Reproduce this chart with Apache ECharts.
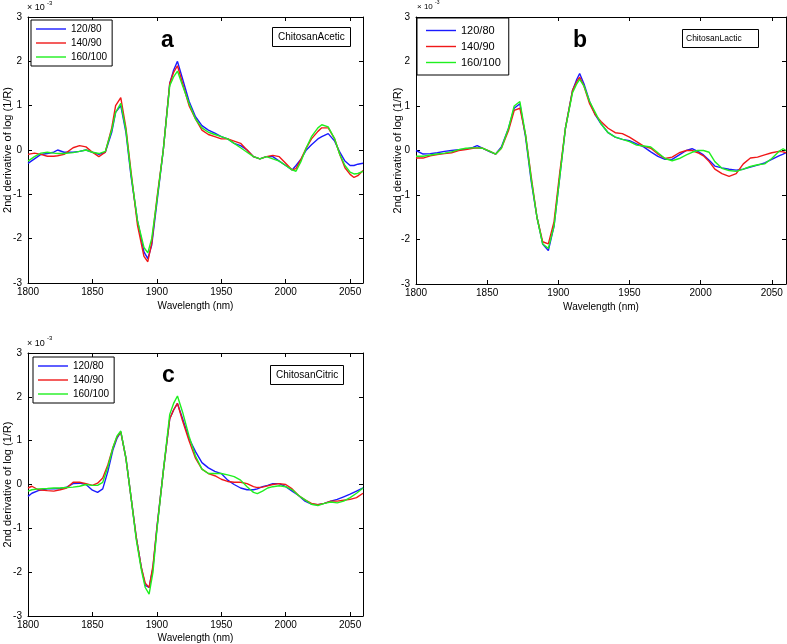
<!DOCTYPE html>
<html>
<head>
<meta charset="utf-8">
<script src="https://cdn.jsdelivr.net/npm/echarts@6/dist/echarts.min.js"></script>
<style>
html,body{margin:0;padding:0;background:#fff;}
#chart{width:787px;height:644px;}
</style>
</head>
<body>
<div id="chart"></div>
<script>
// ---------- data (values in units of 1e-3) ----------
const seriesNames = ['120/80', '140/90', '160/100'];
const panelLetters = ['a', 'b', 'c'];
const panelNotes = ['ChitosanAcetic', 'ChitosanLactic', 'ChitosanCitric'];
const yAxisTitle = '2nd derivative of log (1/R)';
const xAxisTitle = 'Wavelength (nm)';

// Panel a
const wlA = [1800,1805,1810,1815,1820,1823,1828,1835,1840,1845,
             1850,1855,1860,1865,1868,1872,1876,1880,1885,1890,
             1893,1896,1900,1905,1910,1913,1916,1920,1925,1930,
             1935,1940,1945,1950,1955,1960,1965,1970,1975,1980,
             1985,1990,1995,2000,2005,2008,2012,2016,2020,2025,
             2028,2033,2038,2042,2046,2050,2053,2056,2060];
const a120 = [-0.3,-0.2,-0.1,-0.08,-0.05,0.0,-0.05,-0.05,-0.03,0.0,
              -0.05,-0.1,-0.05,0.4,0.85,1.0,0.4,-0.6,-1.6,-2.3,
              -2.45,-2.15,-1.2,0.0,1.5,1.8,2.0,1.6,1.1,0.75,
              0.55,0.45,0.38,0.3,0.25,0.15,0.1,0.0,-0.15,-0.2,
              -0.15,-0.15,-0.25,-0.35,-0.45,-0.35,-0.2,0.0,0.12,0.25,
              0.3,0.37,0.2,-0.05,-0.25,-0.35,-0.35,-0.32,-0.3];
const a140 = [-0.1,-0.07,-0.1,-0.14,-0.14,-0.13,-0.1,0.05,0.1,0.07,
              -0.05,-0.15,-0.05,0.5,1.0,1.18,0.5,-0.5,-1.7,-2.4,
              -2.52,-2.1,-1.1,0.0,1.5,1.75,1.9,1.5,1.0,0.7,
              0.45,0.35,0.3,0.25,0.25,0.2,0.15,0.0,-0.15,-0.2,
              -0.15,-0.12,-0.15,-0.3,-0.45,-0.42,-0.2,0.05,0.25,0.42,
              0.5,0.5,0.25,-0.1,-0.4,-0.55,-0.62,-0.58,-0.46];
const a160 = [-0.25,-0.15,-0.07,-0.05,-0.07,-0.08,-0.08,-0.06,-0.03,0.0,
              -0.05,-0.08,-0.03,0.45,0.85,1.05,0.45,-0.55,-1.6,-2.2,
              -2.32,-2.0,-1.15,0.0,1.45,1.65,1.78,1.45,1.05,0.7,
              0.5,0.4,0.35,0.3,0.25,0.15,0.05,-0.05,-0.15,-0.2,
              -0.15,-0.2,-0.25,-0.35,-0.45,-0.48,-0.25,0.05,0.3,0.5,
              0.57,0.52,0.25,-0.1,-0.35,-0.5,-0.54,-0.53,-0.48];

// Panel b
const wlB = [1800,1805,1810,1815,1820,1825,1830,1835,1840,
             1843,1847,1852,1856,1860,
             1865,1869,1873,1877,1881,1885,1889,1893,1897,
             1901,1905,1910,1913,1915,1918,1922,1926,1930,
             1935,1940,1945,1950,1955,1960,1965,1970,1975,1980,
             1985,1990,1994,1998,2002,2006,2010,2015,2020,2025,
             2030,2035,2040,2045,2050,2055,2058,2060];
const b120 = [0.0,-0.08,-0.07,-0.05,-0.02,0.0,0.02,0.03,0.07,
              0.11,0.05,-0.03,-0.08,0.08,
              0.5,0.95,1.05,0.3,-0.7,-1.5,-2.1,-2.25,-1.7,
              -0.6,0.5,1.35,1.6,1.73,1.5,1.1,0.8,0.6,
              0.4,0.3,0.25,0.22,0.15,0.08,-0.03,-0.13,-0.2,-0.2,
              -0.1,0.0,0.04,-0.02,-0.1,-0.22,-0.35,-0.39,-0.42,-0.44,
              -0.42,-0.37,-0.33,-0.28,-0.2,-0.12,-0.08,-0.05];
const b140 = [-0.17,-0.17,-0.12,-0.09,-0.07,-0.05,0.0,0.02,0.05,
              0.06,0.05,-0.02,-0.08,0.05,
              0.45,0.9,0.95,0.35,-0.6,-1.5,-2.05,-2.1,-1.6,
              -0.5,0.5,1.35,1.55,1.65,1.45,1.05,0.8,0.65,
              0.5,0.4,0.38,0.3,0.2,0.1,0.05,-0.08,-0.18,-0.15,
              -0.05,0.0,0.0,-0.05,-0.12,-0.25,-0.42,-0.52,-0.58,-0.52,
              -0.3,-0.17,-0.15,-0.1,-0.05,-0.02,-0.03,-0.05];
const b160 = [-0.13,-0.13,-0.1,-0.08,-0.06,-0.03,0.02,0.05,0.06,
              0.06,0.05,-0.02,-0.08,0.05,
              0.5,1.0,1.1,0.35,-0.65,-1.5,-2.1,-2.2,-1.7,
              -0.6,0.5,1.3,1.5,1.6,1.45,1.1,0.85,0.6,
              0.4,0.3,0.25,0.2,0.12,0.1,0.08,-0.05,-0.18,-0.23,
              -0.18,-0.1,-0.04,0.0,0.0,-0.04,-0.25,-0.4,-0.45,-0.47,
              -0.42,-0.36,-0.32,-0.3,-0.18,-0.02,0.04,0.0];

// Panel c
const wlC = [1800,1803,1808,1815,1820,1825,1830,1835,1840,1845,
             1850,1854,1858,1862,1866,1869,1872,1876,1880,1884,
             1888,1891,1894,1897,1900,1905,1910,1913,1916,1920,
             1925,1930,1935,1940,1945,1950,1955,1960,1965,1970,
             1975,1978,1982,1986,1990,1995,2000,2005,2010,2015,
             2020,2025,2030,2035,2040,2045,2050,2055,2060];
const c120 = [-0.27,-0.2,-0.14,-0.1,-0.1,-0.09,-0.06,0.02,0.03,0.0,
              -0.13,-0.18,-0.1,0.3,0.8,1.05,1.2,0.6,-0.3,-1.2,
              -1.9,-2.3,-2.35,-1.9,-1.0,0.3,1.5,1.7,1.85,1.5,
              1.05,0.75,0.5,0.38,0.3,0.25,0.1,0.0,-0.08,-0.12,
              -0.12,-0.1,-0.05,-0.02,0.02,0.02,-0.05,-0.15,-0.25,-0.38,
              -0.45,-0.46,-0.43,-0.38,-0.34,-0.28,-0.22,-0.15,-0.08];
const c140 = [-0.08,-0.04,-0.12,-0.14,-0.15,-0.12,-0.08,0.05,0.05,0.02,
              -0.02,0.03,0.15,0.45,0.85,1.08,1.2,0.6,-0.3,-1.2,
              -1.9,-2.25,-2.35,-1.85,-1.0,0.3,1.5,1.7,1.85,1.45,
              1.0,0.6,0.35,0.25,0.2,0.12,0.07,0.05,0.05,0.02,
              -0.05,-0.07,-0.06,-0.03,0.0,0.02,0.0,-0.1,-0.25,-0.35,
              -0.43,-0.46,-0.43,-0.38,-0.38,-0.36,-0.34,-0.3,-0.2];
const c160 = [-0.15,-0.12,-0.1,-0.09,-0.08,-0.08,-0.07,-0.06,-0.04,0.0,
              -0.02,-0.02,0.05,0.4,0.85,1.1,1.22,0.6,-0.3,-1.25,
              -1.95,-2.35,-2.5,-2.0,-1.05,0.3,1.6,1.85,2.02,1.65,
              1.1,0.65,0.35,0.25,0.25,0.25,0.22,0.18,0.1,-0.05,
              -0.18,-0.21,-0.15,-0.08,-0.05,-0.03,-0.05,-0.12,-0.25,-0.35,
              -0.45,-0.48,-0.43,-0.4,-0.42,-0.38,-0.3,-0.2,-0.08];

const panelWl = [wlA, wlB, wlC];
const panelVals = [[a120, a140, a160], [b120, b140, b160], [c120, c140, c160]];
const lineColors = ['#1a1aff', '#f01818', '#1ff01f'];

// ---------- layout ----------
const F = '"Liberation Sans", Arial, Helvetica, sans-serif';
const grids = [
  {left: 28, top: 17, width: 335, height: 266},
  {left: 416, top: 17, width: 370, height: 267},
  {left: 28, top: 353, width: 335, height: 265}
];
const yNameGap = [15, 13, 15];
const xNameGap = [18, 18, 17];

const xAxes = [], yAxes = [], series = [];
grids.forEach((g, i) => {
  [false, true].forEach(isTop => {
    xAxes.push({
      type: 'value', gridIndex: i, position: isTop ? 'top' : 'bottom',
      min: 1800, max: 2060, interval: 50,
      axisLine: {show: true, onZero: false, lineStyle: {color: '#000', width: 1}},
      axisTick: {show: true, inside: true, length: 4, lineStyle: {color: '#000', width: 1}},
      axisLabel: {show: !isTop, showMaxLabel: false, color: '#000', fontSize: 10, fontFamily: F, margin: 4,
                  formatter: v => String(v)},
      splitLine: {show: false},
      name: isTop ? '' : xAxisTitle, nameLocation: 'middle', nameGap: xNameGap[i], nameMoveOverlap: false,
      nameTextStyle: {color: '#000', fontSize: 10, fontFamily: F}
    });
    yAxes.push({
      type: 'value', gridIndex: i, position: isTop ? 'right' : 'left',
      min: -3, max: 3, interval: 1,
      axisLine: {show: true, onZero: false, lineStyle: {color: '#000', width: 1}},
      axisTick: {show: true, inside: true, length: 4, lineStyle: {color: '#000', width: 1}},
      axisLabel: {show: !isTop, color: '#000', fontSize: 10, fontFamily: F, margin: 6,
                  formatter: v => String(v)},
      splitLine: {show: false},
      name: isTop ? '' : yAxisTitle, nameLocation: 'middle', nameGap: yNameGap[i], nameRotate: 90, nameMoveOverlap: false,
      nameTextStyle: {color: '#000', fontSize: 11, fontFamily: F}
    });
  });
  seriesNames.forEach((nm, k) => {
    series.push({
      type: 'line', name: nm, xAxisIndex: 2 * i, yAxisIndex: 2 * i,
      data: panelWl[i].map((w, j) => [w, panelVals[i][k][j]]),
      symbol: 'none', smooth: false, animation: false,
      lineStyle: {color: lineColors[k], width: 1.4},
      itemStyle: {color: lineColors[k]}
    });
  });
});

const legendBase = {
  data: seriesNames, orient: 'vertical', icon: 'path://M0,5 L30,5 L30,6.4 L0,6.4 Z',
  itemWidth: 30, itemHeight: 10, itemGap: 4,
  borderColor: '#000', borderWidth: 1, backgroundColor: '#fff', borderRadius: 0,
  selectedMode: false
};
const legends = [
  Object.assign({}, legendBase, {left: 31, top: 20, padding: [4, 5, 4, 5], textStyle: {fontSize: 10, fontFamily: F, color: '#000'}}),
  Object.assign({}, legendBase, {left: 417, top: 18, padding: [7, 8, 7, 9], itemGap: 5, textStyle: {fontSize: 11, fontFamily: F, color: '#000'}}),
  Object.assign({}, legendBase, {left: 33, top: 357, padding: [4, 5, 4, 5], textStyle: {fontSize: 10, fontFamily: F, color: '#000'}})
];

const titles = [
  {text: panelLetters[0], left: 161, top: 29, textStyle: {fontSize: 23, fontWeight: 'bold', fontFamily: F, color: '#000'}, padding: 0},
  {text: panelLetters[1], left: 573, top: 29, textStyle: {fontSize: 23, fontWeight: 'bold', fontFamily: F, color: '#000'}, padding: 0},
  {text: panelLetters[2], left: 162, top: 364, textStyle: {fontSize: 23, fontWeight: 'bold', fontFamily: F, color: '#000'}, padding: 0},
  {text: panelNotes[0], left: 272, top: 27, padding: [5, 6, 5, 6], borderColor: '#000', borderWidth: 1, backgroundColor: '#fff',
   textStyle: {fontSize: 10, fontWeight: 'normal', fontFamily: F, color: '#000'}},
  {text: panelNotes[1], left: 682, top: 29, padding: [5, 17, 5, 4], borderColor: '#000', borderWidth: 1, backgroundColor: '#fff',
   textStyle: {fontSize: 8.5, fontWeight: 'normal', fontFamily: F, color: '#000'}},
  {text: panelNotes[2], left: 270, top: 365, padding: [5, 6, 5, 6], borderColor: '#000', borderWidth: 1, backgroundColor: '#fff',
   textStyle: {fontSize: 10, fontWeight: 'normal', fontFamily: F, color: '#000'}},
  // exponent labels
  {text: '× 10', left: 27, top: 3, padding: 0, textStyle: {fontSize: 9, fontWeight: 'normal', fontFamily: F, color: '#000'}},
  {text: '-3', left: 47, top: 0, padding: 0, textStyle: {fontSize: 6, fontWeight: 'normal', fontFamily: F, color: '#000'}},
  {text: '× 10', left: 417, top: 3, padding: 0, textStyle: {fontSize: 8, fontWeight: 'normal', fontFamily: F, color: '#000'}},
  {text: '-3', left: 435, top: 0, padding: 0, textStyle: {fontSize: 5, fontWeight: 'normal', fontFamily: F, color: '#000'}},
  {text: '× 10', left: 27, top: 339, padding: 0, textStyle: {fontSize: 9, fontWeight: 'normal', fontFamily: F, color: '#000'}},
  {text: '-3', left: 47, top: 335, padding: 0, textStyle: {fontSize: 6, fontWeight: 'normal', fontFamily: F, color: '#000'}}
];

const chart = echarts.init(document.getElementById('chart'));
chart.setOption({
  backgroundColor: '#fff',
  animation: false,
  title: titles,
  legend: legends,
  grid: grids,
  xAxis: xAxes,
  yAxis: yAxes,
  series: series
});
</script>
</body>
</html>
